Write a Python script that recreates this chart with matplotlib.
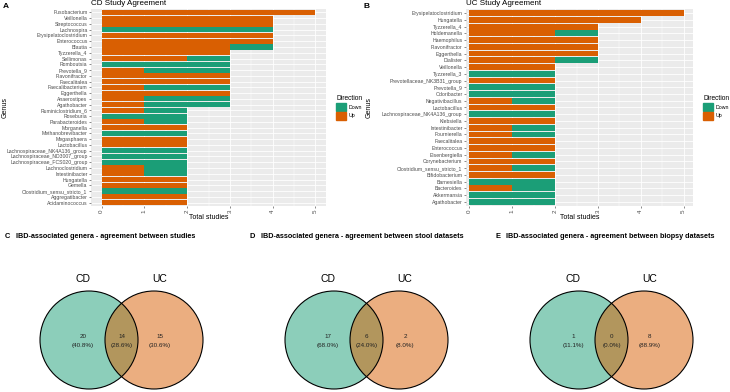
import matplotlib
matplotlib.use("Agg")
import matplotlib.pyplot as plt
from matplotlib.patches import Circle, Patch
from matplotlib.colors import to_rgba

plt.rcParams['font.family'] = ['Liberation Sans', 'DejaVu Sans']

W, H = 730, 392

# CD study agreement (top to bottom)
cd_genus = ["Fusobacterium", "Veillonella", "Streptococcus", "Lachnospira",
            "Erysipelatoclostridium", "Enterococcus", "Blautia", "Tyzzerella_4",
            "Sellimonas", "Romboutsia", "Prevotella_9", "Flavonifractor",
            "Faecalitalea", "Faecalibacterium", "Eggerthella", "Anaerostipes",
            "Agathobacter", "Ruminiclostridium_6", "Roseburia", "Parabacteroides",
            "Morganella", "Methanobrevibacter", "Megasphaera", "Lactobacillus",
            "Lachnospiraceae_NK4A136_group", "Lachnospiraceae_ND3007_group",
            "Lachnospiraceae_FCS020_group", "Lachnoclostridium", "Intestinibacter",
            "Hungatella", "Gemella", "Clostridium_sensu_stricto_1",
            "Aggregatibacter", "Acidaminococcus"]
cd_up = [5, 4, 4, 0, 4, 4, 3, 3, 2, 0, 1, 3, 3, 1, 3, 1, 1, 1, 0, 1,
         2, 0, 2, 2, 0, 0, 0, 1, 1, 2, 2, 0, 2, 2]
cd_down = [0, 0, 0, 4, 0, 0, 1, 0, 1, 3, 2, 0, 0, 2, 0, 2, 2, 1, 2, 1,
           0, 2, 0, 0, 2, 2, 2, 1, 1, 0, 0, 2, 0, 0]

# UC study agreement (top to bottom)
uc_genus = ["Erysipelatoclostridium", "Hungatella", "Tyzzerella_4", "Holdemanella",
            "Haemophilus", "Flavonifractor", "Eggerthella", "Dialister",
            "Veillonella", "Tyzzerella_3", "Prevotellaceae_NK3B31_group",
            "Prevotella_9", "Odoribacter", "Negativibacillus", "Lactobacillus",
            "Lachnospiraceae_NK4A136_group", "Klebsiella", "Intestinibacter",
            "Fournierella", "Faecalitalea", "Enterococcus", "Eisenbergiella",
            "Corynebacterium", "Clostridium_sensu_stricto_1", "Bifidobacterium",
            "Barnesiella", "Bacteroides", "Akkermansia", "Agathobacter"]
uc_up = [5, 4, 3, 2, 3, 3, 3, 2, 2, 0, 2, 0, 0, 1, 2, 0, 2, 1, 1, 2,
         2, 1, 2, 1, 2, 0, 1, 0, 0]
uc_down = [0, 0, 0, 1, 0, 0, 0, 1, 0, 2, 0, 2, 2, 1, 0, 2, 0, 1, 1, 0,
           0, 1, 0, 1, 0, 2, 1, 2, 2]

# Venn counts: CD only, shared, UC only
venn_titles = ["IBD-associated genera - agreement between studies",
               "IBD-associated genera - agreement between stool datasets",
               "IBD-associated genera - agreement between biopsy datasets"]
venn_letters = ["C", "D", "E"]
venn_cd_only = [20, 17, 1]
venn_shared = [14, 6, 0]
venn_uc_only = [15, 2, 8]

col_down = "#1B9E77"
col_up = "#D95F02"
txt_grey = "#4D4D4D"

fig = plt.figure(figsize=(W / 100, H / 100), dpi=100)


def px_axes(l, t, r, b):
    return fig.add_axes([l / W, 1 - b / H, (r - l) / W, (b - t) / H])


def bar_panel(ax, genus, up, down, title, xlim):
    n = len(genus)
    ypos = list(range(n))
    ax.set_facecolor("#EBEBEB")
    ax.barh(ypos, up, height=0.88, color=col_up, zorder=3)
    ax.barh(ypos, down, left=up, height=0.88, color=col_down, zorder=3)
    ax.set_xlim(*xlim)
    ax.set_ylim(n - 0.4, -0.6)
    ax.set_xticks(range(6))
    ax.set_xticks([0.5, 1.5, 2.5, 3.5, 4.5], minor=True)
    ax.set_yticks(ypos)
    ax.set_yticklabels(genus, fontsize=3.7, color=txt_grey)
    ax.set_xticklabels([str(i) for i in range(6)], fontsize=4.5,
                       color=txt_grey, rotation=90)
    ax.grid(True, which="major", color="white", lw=0.6, zorder=1)
    ax.grid(True, which="minor", axis="x", color="white", lw=0.3, zorder=1)
    ax.tick_params(axis="both", which="major", length=1.5, width=0.4,
                   color="#333333", pad=1)
    ax.tick_params(which="minor", length=0)
    for s in ax.spines.values():
        s.set_visible(False)
    ax.set_xlabel("Total studies", fontsize=5, labelpad=1)
    ax.set_title(title, fontsize=5.8, loc="left", pad=3)
    handles = [Patch(color=col_down, label="Down"), Patch(color=col_up, label="Up")]
    leg = ax.legend(handles=handles, title="Direction", loc="center left",
                    bbox_to_anchor=(1.035, 0.5), frameon=False, fontsize=3.8,
                    title_fontsize=4.8, handlelength=1.9, handleheight=1.9,
                    labelspacing=0.15, handletextpad=0.5, borderaxespad=0)
    leg._legend_box.align = "left"


axA = px_axes(91, 9, 326, 206)
bar_panel(axA, cd_genus, cd_up, cd_down, "CD Study Agreement", (-0.25, 5.25))
axA.set_ylabel("Genus", fontsize=5, labelpad=1)
axA.yaxis.set_label_coords(-0.35, 0.5)

axB = px_axes(466, 9, 693, 206)
bar_panel(axB, uc_genus, uc_up, uc_down, "UC Study Agreement", (-0.08, 5.22))
axB.set_ylabel("Genus", fontsize=5, labelpad=1)
axB.yaxis.set_label_coords(-0.41, 0.5)

fig.text(3 / W, 1 - 6 / H, "A", fontsize=6, fontweight="bold", va="center")
fig.text(363 / W, 1 - 6 / H, "B", fontsize=6, fontweight="bold", va="center")

# Venn diagrams drawn on an overlay in pixel units
ov = fig.add_axes([0, 0, 1, 1])
ov.set_xlim(0, W)
ov.set_ylim(H, 0)
ov.axis("off")

r = 49
for i in range(3):
    x0 = 245 * i
    cl = x0 + 89
    cr = x0 + 154
    cy = 340
    ov.text(x0 + 5, 236, venn_letters[i], fontsize=5.4, fontweight="bold",
            va="center", ha="left")
    ov.text(x0 + 16, 236, venn_titles[i], fontsize=5.2, fontweight="bold",
            va="center", ha="left")
    ov.add_patch(Circle((cl, cy), r, facecolor=to_rgba(col_down, 0.5),
                        edgecolor="none"))
    ov.add_patch(Circle((cr, cy), r, facecolor=to_rgba(col_up, 0.5),
                        edgecolor="none"))
    ov.add_patch(Circle((cl, cy), r, facecolor="none", edgecolor="black", lw=0.8))
    ov.add_patch(Circle((cr, cy), r, facecolor="none", edgecolor="black", lw=0.8))
    ov.text(cl - 6, 279, "CD", fontsize=7.5, ha="center", va="center")
    ov.text(cr + 6, 279, "UC", fontsize=7.5, ha="center", va="center")
    total = venn_cd_only[i] + venn_shared[i] + venn_uc_only[i]
    vals = [venn_cd_only[i], venn_shared[i], venn_uc_only[i]]
    xs = [cl - 6, (cl + cr) / 2, cr + 6]
    for v, xx in zip(vals, xs):
        ov.text(xx, 336, str(v), fontsize=4.5, ha="center", va="center",
                color="#222222")
        ov.text(xx, 346, "(%.1f%%)" % (100.0 * v / total), fontsize=4.5,
                ha="center", va="center", color="#222222")

fig.savefig("out.png", dpi=100)
